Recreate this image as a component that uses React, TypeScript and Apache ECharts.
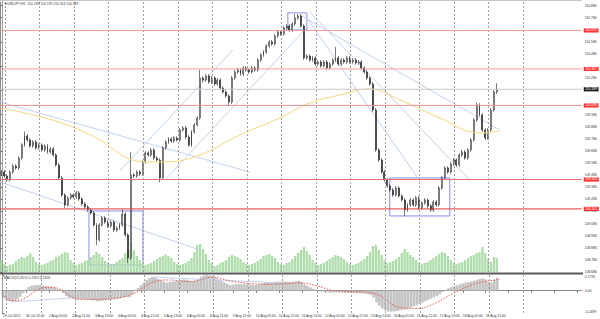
import React, { useEffect, useRef } from "react";
import * as echarts from "echarts";

// ---- price data (2-hour bars) ----
const firstOpen = 109.49;
const closes = [
  109.506, 109.473, 109.44, 109.506, 109.556, 109.539, 109.622, 109.729, 109.804, 109.771,
  109.721, 109.754, 109.705, 109.729, 109.688, 109.721, 109.672, 109.696, 109.647, 109.564,
  109.457, 109.316, 109.234, 109.292, 109.316, 109.3, 109.333, 109.283, 109.242, 109.217,
  109.192, 109.168, 109.069, 108.945, 109.069, 109.126, 109.093, 109.06, 109.093, 109.027,
  109.044, 109.069, 109.159, 108.986, 108.796, 109.482, 109.473, 109.506, 109.49, 109.589,
  109.663, 109.647, 109.688, 109.622, 109.605, 109.457, 109.705, 109.754, 109.779, 109.762,
  109.787, 109.771, 109.853, 109.87, 109.795, 109.729, 109.837, 109.895, 109.952, 110.283,
  110.266, 110.299, 110.25, 110.283, 110.233, 110.266, 110.2, 110.167, 110.134, 110.084,
  110.283, 110.332, 110.349, 110.316, 110.365, 110.349, 110.332, 110.365, 110.349, 110.431,
  110.473, 110.497, 110.547, 110.58, 110.564, 110.63, 110.663, 110.646, 110.696, 110.712,
  110.679, 110.729, 110.778, 110.795, 110.712, 110.448, 110.464, 110.431, 110.448, 110.398,
  110.415, 110.382, 110.415, 110.365, 110.398, 110.431, 110.448, 110.398, 110.431, 110.415,
  110.448, 110.415, 110.431, 110.407, 110.415, 110.365, 110.332, 110.283, 110.233, 110.018,
  109.688, 109.605, 109.506, 109.44, 109.391, 109.358, 109.316, 109.374, 109.308, 109.275,
  109.192, 109.234, 109.275, 109.234, 109.292, 109.209, 109.25, 109.275, 109.226, 109.192,
  109.259, 109.234, 109.374, 109.457, 109.539, 109.506, 109.572, 109.605, 109.564, 109.647,
  109.672, 109.622, 109.688, 109.771, 109.936, 110.06, 109.977, 109.853, 109.787, 109.853,
  110.018, 110.167, 110.189,
];
const highOverride: Record<number, number> = {
  8: 109.84, 42: 109.2, 45: 109.67, 69: 110.35, 102: 110.81, 116: 110.54, 165: 110.08, 172: 110.24,
};
const lowOverride: Record<number, number> = {
  22: 109.21, 33: 108.9, 44: 108.755, 55: 109.42, 79: 110.05, 140: 109.14, 168: 109.77,
};
const volumes = [
  120, 80, 60, 70, 80, 110, 130, 150, 140, 160, 185, 150, 100,
  80, 70, 80, 90, 110, 120, 150, 160, 180, 200, 190, 120, 90,
  70, 80, 90, 110, 120, 150, 170, 200, 180, 150, 110, 90,
  70, 80, 100, 120, 140, 190, 220, 300, 220, 160, 120, 90,
  70, 80, 90, 110, 130, 150, 160, 175, 160, 140, 100, 80,
  70, 80, 90, 110, 140, 200, 270, 280, 230, 180, 120, 90,
  60, 70, 90, 100, 120, 150, 170, 160, 150, 130, 100, 80,
  70, 80, 90, 110, 130, 160, 170, 180, 160, 140, 100, 80,
  70, 90, 100, 130, 160, 190, 220, 250, 210, 170, 120, 90,
  70, 80, 90, 110, 130, 150, 170, 160, 150, 130, 100, 80,
  70, 80, 90, 110, 130, 160, 200, 260, 270, 220, 170, 120,
  90, 100, 110, 130, 150, 190, 230, 200, 170, 150, 120, 90,
  80, 90, 100, 120, 140, 160, 180, 200, 190, 160, 120, 90,
  80, 90, 100, 120, 140, 160, 170, 190, 200, 250, 190, 130,
  100, 150, 140,
];
const macdHist = [
  -0.08, -0.1, -0.115, -0.12, -0.11, -0.095, -0.07, -0.03, 0.01, 0.04,
  0.055, 0.06, 0.062, 0.06, 0.055, 0.05, 0.045, 0.04, 0.03, 0.015,
  -0.005, -0.03, -0.06, -0.08, -0.09, -0.095, -0.1, -0.1, -0.098, -0.1,
  -0.105, -0.108, -0.11, -0.12, -0.115, -0.11, -0.105, -0.1, -0.098, -0.095,
  -0.09, -0.085, -0.075, -0.07, -0.075, -0.04, -0.005, 0.03, 0.06, 0.09,
  0.12, 0.14, 0.15, 0.145, 0.13, 0.115, 0.1, 0.09, 0.095, 0.1,
  0.105, 0.11, 0.12, 0.125, 0.12, 0.11, 0.105, 0.11, 0.125, 0.155,
  0.17, 0.172, 0.168, 0.16, 0.145, 0.125, 0.105, 0.09, 0.075, 0.06,
  0.065, 0.07, 0.072, 0.07, 0.072, 0.07, 0.065, 0.065, 0.062, 0.07,
  0.078, 0.085, 0.092, 0.095, 0.095, 0.098, 0.1, 0.1, 0.1, 0.098,
  0.097, 0.098, 0.105, 0.108, 0.095, 0.07, 0.05, 0.035, 0.02, 0.01,
  0, -0.01, -0.015, -0.02, -0.022, -0.022, -0.018, -0.02, -0.022, -0.025,
  -0.025, -0.028, -0.03, -0.03, -0.03, -0.032, -0.035, -0.04, -0.05, -0.08,
  -0.13, -0.17, -0.2, -0.22, -0.232, -0.235, -0.232, -0.228, -0.222, -0.215,
  -0.21, -0.2, -0.19, -0.175, -0.165, -0.15, -0.135, -0.12, -0.105, -0.09,
  -0.075, -0.06, -0.04, -0.015, 0.005, 0.025, 0.04, 0.05, 0.06, 0.07,
  0.08, 0.09, 0.095, 0.1, 0.11, 0.12, 0.13, 0.137, 0.125, 0.095,
  0.09, 0.12, 0.145,
];
// [H1 bar index, value]
const signalPoints = [
  [0, -0.04], [6.4, -0.112], [13.4, -0.1], [22.4, -0.012], [27.3, 0.026], [34.2, 0.037],
  [41.2, 0.007], [48.1, -0.068], [55.1, -0.097], [68.9, -0.097], [82.8, -0.075], [91.9, -0.03],
  [98.8, 0.04], [105.8, 0.1], [115.5, 0.118], [129.4, 0.1], [138.4, 0.12], [145.3, 0.15],
  [161.3, 0.1], [184.9, 0.07], [207.8, 0.085], [219.6, 0.05], [230.8, 0.0], [254.4, -0.02],
  [263.4, -0.06], [275.2, -0.18], [289.1, -0.2], [300.2, -0.15], [314.1, -0.03], [328, 0.07],
  [337.7, 0.105], [346.7, 0.125],
];
const maPoints = [
  [-0.5, 110.035], [22.4, 109.977], [46, 109.895], [68.9, 109.771], [87.7, 109.622],
  [103.7, 109.589], [115.5, 109.589], [138.4, 109.647], [166.2, 109.812], [193.9, 109.952],
  [214.8, 110.076], [235.6, 110.142], [256.4, 110.192], [277.3, 110.101], [305.1, 109.952],
  [332.8, 109.828], [346.7, 109.845],
];
const trendLines = [
  [[-0.5, 110.084], [173.1, 109.506]],
  [[-0.5, 109.424], [138.4, 108.862]],
  [[82.8, 109.515], [161.3, 110.514]],
  [[114.1, 109.44], [209.9, 110.663]],
  [[212.7, 110.778], [291.2, 109.432]],
  [[214.8, 110.828], [325.9, 109.44]],
  [[207.8, 110.803], [346.7, 109.853]],
];
const macdTrendLines = [
  [[6.4, -0.127], [48.1, -0.082]],
  [[103.7, 0.151], [193.9, 0.085]],
];
const boxes = [
  [[61.3, 109.184], [98.8, 108.738]],
  [[199.5, 110.82], [212.7, 110.679]],
  [[270.3, 109.457], [312.0, 109.143]],
];
const levelValues = [110.675, 110.357, 110.056, 109.444, 109.201];
const currentPrice = 110.189;
const daySeparators = [3, 27, 51, 75, 99, 123, 147, 171, 195, 219, 243, 267, 291, 315, 339, 363];
const timeLabels = [
  "29 Jul 2021", "30 Jul 13:00", "2 Aug 05:00", "2 Aug 21:00", "3 Aug 13:00", "4 Aug 05:00",
  "4 Aug 21:00", "5 Aug 13:00", "6 Aug 05:00", "6 Aug 21:00", "9 Aug 13:00", "10 Aug 05:00",
  "10 Aug 21:00", "11 Aug 13:00", "12 Aug 05:00", "12 Aug 21:00", "13 Aug 13:00", "16 Aug 05:00",
  "16 Aug 21:00", "17 Aug 13:00", "18 Aug 05:00", "18 Aug 21:00",
];
const priceTicks = [
  110.88, 110.78, 110.68, 110.58, 110.48, 110.38, 110.28, 110.18, 110.08, 109.98, 109.88, 109.78,
  109.68, 109.58, 109.48, 109.38, 109.28, 109.18, 109.08, 108.98, 108.88, 108.78, 108.68,
];
const hiddenPriceLabels = [110.68, 110.38, 110.18, 110.08];
const macdTicks = [0.1735, 0, -0.2499];
const titleText = "USDJPY,H1  110.183 110.195 110.163 110.189";
const macdText = "MACD(12,26,9) 0.1352 0.1424";

const CAT_COUNT = 202;
const X_MIN = -0.5;
const X_MAX = 403.67;
const levelColors = ["#f39a9a", "#f39a9a", "#f09292", "#ea6e6e", "#e03636"];

export default function App() {
  const ref = useRef<HTMLDivElement>(null);
  useEffect(() => {
    if (!ref.current) return;
    const chart = echarts.init(ref.current, undefined, { renderer: "svg", width: 600, height: 319 });
    const FS = 3.4;
    const ff = "Liberation Sans, Arial, sans-serif";
    const cats = Array.from({ length: CAT_COUNT }, (_, i) => String(i));
    const candles = closes.map((c, i) => {
      const o = i === 0 ? firstOpen : closes[i - 1];
      const hi = highOverride[i] ?? Math.max(o, c) + 0.015;
      const lo = lowOverride[i] ?? Math.min(o, c) - 0.015;
      return [o, c, lo, hi];
    });
    const labelVals = priceTicks.filter((v) => !hiddenPriceLabels.includes(v));
    const sepLine = {
      symbol: "none",
      silent: true,
      label: { show: false },
      lineStyle: { color: "#a0a0a0", type: [2, 2], width: 1 },
      data: daySeparators.map((v) => ({ xAxis: v })),
    };
    const lineSeries = (pts: number[][], xi: number, yi: number, extra: any = {}) => ({
      type: "line",
      xAxisIndex: xi,
      yAxisIndex: yi,
      data: pts,
      showSymbol: false,
      silent: true,
      lineStyle: { color: "#c4d2ee", width: 1 },
      z: 1,
      ...extra,
    });
    const hLine = (v: number, color: string, bg: string, z: number) => ({
      type: "line",
      xAxisIndex: 1,
      yAxisIndex: 0,
      data: [[X_MIN, v], [X_MAX, v]],
      showSymbol: false,
      silent: true,
      z,
      itemStyle: { color },
      lineStyle: { color, width: 1, type: "solid" },
      endLabel: {
        show: true, formatter: v.toFixed(3), color: "#ffffff", backgroundColor: bg,
        padding: [0.6, 1.4], fontSize: FS, fontFamily: ff, distance: 2,
      },
    });
    const option: any = {
      animation: false,
      backgroundColor: "#ffffff",
      textStyle: { fontFamily: ff },
      grid: [
        { left: 0, right: 18, top: 2, height: 270 },
        { left: 0, right: 18, top: 275, height: 38 },
      ],
      xAxis: [
        { type: "category", gridIndex: 0, data: cats, axisLine: { show: false }, axisTick: { show: false }, axisLabel: { show: false }, splitLine: { show: false } },
        { type: "value", gridIndex: 0, min: X_MIN, max: X_MAX, show: false },
        {
          type: "category", gridIndex: 1, data: cats,
          axisLine: { show: true, lineStyle: { color: "#8a8a8a", width: 1 } },
          axisTick: { show: true, alignWithLabel: true, interval: (i: number) => i % 8 === 0, length: 2, lineStyle: { color: "#666" } },
          axisLabel: {
            interval: (i: number) => i % 8 === 0,
            formatter: (_v: string, i: number) => timeLabels[i / 8] ?? "",
            align: "left", fontSize: FS, color: "#333", margin: 1.5, fontFamily: ff,
          },
          splitLine: { show: false },
        },
        { type: "value", gridIndex: 1, min: X_MIN, max: X_MAX, show: false },
      ],
      yAxis: [
        {
          type: "value", gridIndex: 0, position: "right", min: 108.68, max: 110.91,
          axisLine: { show: true, lineStyle: { color: "#8a8a8a" } },
          axisTick: { show: true, length: 2, customValues: priceTicks, lineStyle: { color: "#666" } },
          axisLabel: { customValues: labelVals, formatter: (v: number) => v.toFixed(3), fontSize: FS, color: "#333", margin: 3, fontFamily: ff },
          splitLine: { show: false },
        },
        { type: "value", gridIndex: 0, min: 0, max: 2700, show: false },
        {
          type: "value", gridIndex: 1, position: "right", min: -0.2499, max: 0.1735,
          axisLine: { show: true, lineStyle: { color: "#8a8a8a" } },
          axisTick: { show: true, length: 2, customValues: macdTicks, lineStyle: { color: "#666" } },
          axisLabel: {
            customValues: macdTicks,
            formatter: (v: number) => (v > 0.1 ? "{t|0.1735}" : v < -0.1 ? "{b|-0.2499}" : "0.00"),
            fontSize: FS, color: "#333", margin: 3, fontFamily: ff,
            rich: {
              t: { padding: [4, 0, 0, 0], fontSize: FS, color: "#333", fontFamily: ff },
              b: { padding: [0, 0, 3, 0], fontSize: FS, color: "#333", fontFamily: ff },
            },
          },
          splitLine: { show: false },
        },
      ],
      series: [
        {
          type: "bar", xAxisIndex: 0, yAxisIndex: 1, data: volumes, barWidth: 2.3, silent: true,
          itemStyle: { color: "#aedcaa" }, z: 1,
        },
        ...trendLines.map((t, k) => lineSeries(t, 1, 0, k === 0 ? { markLine: sepLine } : {})),
        {
          type: "candlestick", xAxisIndex: 0, yAxisIndex: 0, data: candles, barMaxWidth: 1.5, silent: true, z: 3,
          itemStyle: { color: "#ffffff", color0: "#222222", borderColor: "#222222", borderColor0: "#222222", borderWidth: 0.6 },
        },
        {
          type: "line", xAxisIndex: 1, yAxisIndex: 0, data: maPoints, smooth: 0.4, showSymbol: false, silent: true,
          lineStyle: { color: "#f1d77c", width: 1 }, z: 4,
          markArea: {
            silent: true,
            itemStyle: { color: "rgba(0,0,0,0)", borderColor: "#8c8cf2", borderWidth: 1 },
            data: boxes.map((b) => [{ coord: b[0] }, { coord: b[1] }]),
          },
        },
        ...levelValues.map((v, k) => hLine(v, levelColors[k], "#ff3030", 5)),
        hLine(currentPrice, "#c8c8c8", "#1c1c1c", 5),
        {
          type: "bar", xAxisIndex: 2, yAxisIndex: 2, data: macdHist, barWidth: "92%", silent: true,
          itemStyle: { color: "#c4c4c4" }, z: 1,
        },
        ...macdTrendLines.map((t) => lineSeries(t, 3, 2)),
        {
          type: "line", xAxisIndex: 3, yAxisIndex: 2, data: signalPoints, smooth: 0.4, showSymbol: false, silent: true,
          lineStyle: { color: "#e25555", width: 1, type: [1.5, 1.5] }, z: 3,
          markLine: sepLine,
        },
      ],
      graphic: [
        { type: "line", silent: true, shape: { x1: 2.5, y1: 0, x2: 2.5, y2: 313 }, style: { stroke: "#9a9a9a", lineWidth: 1 }, z: 10 },
        { type: "line", silent: true, shape: { x1: 0, y1: 0.5, x2: 582, y2: 0.5 }, style: { stroke: "#c8c8c8", lineWidth: 1 }, z: 10 },
        { type: "rect", silent: true, shape: { x: 0, y: 272.6, width: 583, height: 1.8 }, style: { fill: "#5a5a5a" }, z: 10 },
        { type: "text", silent: true, x: 4, y: 2.5, style: { text: "▼" + titleText, fontSize: FS, fill: "#333", fontFamily: ff, verticalAlign: "top" }, z: 10 },
        { type: "text", silent: true, x: 4, y: 276.2, style: { text: macdText, fontSize: FS, fill: "#333", fontFamily: ff, verticalAlign: "top" }, z: 10 },
      ],
    };
    chart.setOption(option);
    return () => chart.dispose();
  }, []);
  return (
    <div
      ref={ref}
      style={{ position: "fixed", left: 0, top: 0, width: 600, height: 319, background: "#ffffff" }}
    />
  );
}
